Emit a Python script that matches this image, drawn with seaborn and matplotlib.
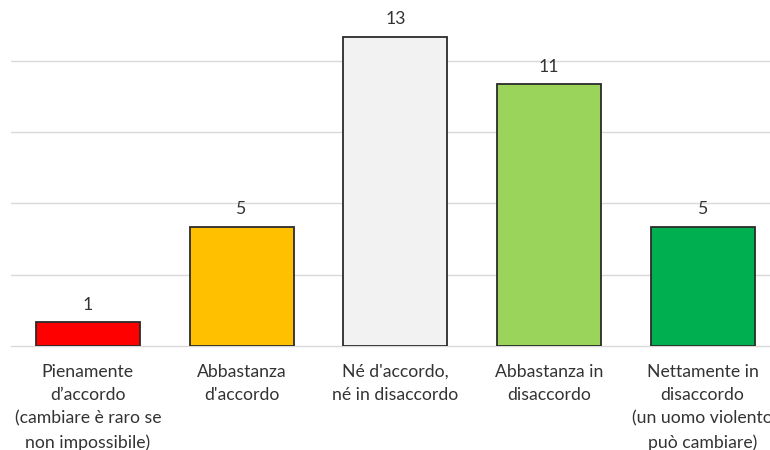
import matplotlib
matplotlib.use("Agg")
import matplotlib.pyplot as plt
import seaborn as sns
import pandas as pd

categories = [
    "Pienamente\nd\u2019accordo\n(cambiare \u00e8 raro se\nnon impossibile)",
    "Abbastanza\nd'accordo",
    "N\u00e9 d'accordo,\nn\u00e9 in disaccordo",
    "Abbastanza in\ndisaccordo",
    "Nettamente in\ndisaccordo\n(un uomo violento\npu\u00f2 cambiare)",
]
values = [1, 5, 13, 11, 5]
colors = ["#ff0000", "#ffc000", "#f2f2f2", "#9bd45a", "#00b050"]
grid_ticks = [3, 6, 9, 12]

sns.set_theme(style="white")
plt.rcParams["font.family"] = ["Lato", "DejaVu Sans"]

df = pd.DataFrame({"cat": categories, "val": values})

fig = plt.figure(figsize=(7.7, 4.5), dpi=100)
ax = fig.add_axes([11 / 770, 104 / 450, 768.5 / 770, 0.7396])

sns.barplot(data=df, x="cat", y="val", hue="cat", palette=colors,
            legend=False, width=0.677, edgecolor="#2b2b2b", linewidth=1.3,
            saturation=1, ax=ax, zorder=3)

ax.set_xlim(-0.5, 4.5)
ax.set_ylim(0, 14)
ax.set_yticks(grid_ticks)
ax.set_yticklabels([])
ax.tick_params(axis="y", length=0)
ax.yaxis.grid(True, color="#d9d9d9", linewidth=1.0, zorder=0)
ax.set_axisbelow(True)

for s in ["top", "right", "left"]:
    ax.spines[s].set_visible(False)
ax.spines["bottom"].set_color("#d9d9d9")
ax.spines["bottom"].set_linewidth(1.0)

ax.set_xlabel("")
ax.set_ylabel("")
ax.tick_params(axis="x", length=0, pad=13, labelsize=12.7, labelcolor="#333333")
for lbl in ax.get_xticklabels():
    lbl.set_linespacing(1.55)
    lbl.set_clip_on(False)

for i, v in enumerate(values):
    ax.annotate(str(v), (i, v), xytext=(0, 7), textcoords="offset points",
                ha="center", va="bottom", fontsize=12.7, color="#333333")

fig.savefig("out.png", dpi=100)
